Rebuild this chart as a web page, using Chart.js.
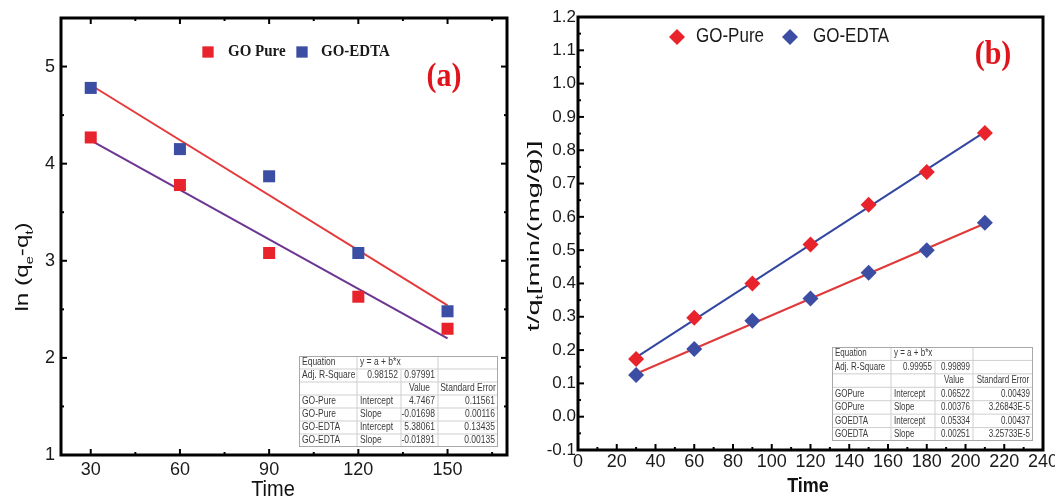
<!DOCTYPE html>
<html>
<head>
<meta charset="utf-8">
<script src="https://cdn.jsdelivr.net/npm/chart.js@4.4.1/dist/chart.umd.min.js"></script>
<style>
  html, body { margin: 0; padding: 0; background: #fff; overflow: hidden; }
  #wrapA { position: absolute; left: 0; top: 0; width: 530px; height: 498px; }
  #wrapB { position: absolute; left: 520px; top: 0; width: 535px; height: 498px; }
</style>
</head>
<body>
<div id="wrapA"><canvas id="chartA" width="530" height="498"></canvas></div>
<div id="wrapB"><canvas id="chartB" width="535" height="498"></canvas></div>
<script>
// ---- panel (a): pseudo-first-order ----
const timeA = [30, 60, 90, 120, 150];
const lnPure = [4.27, 3.78, 3.08, 2.63, 2.30];
const lnEdta = [4.78, 4.15, 3.87, 3.08, 2.48];
const fitTimeA = [30, 150];
const fitEdtaA = [4.81, 2.54];
const fitPureA = [4.24, 2.20];
const xTicksA = [30, 60, 90, 120, 150];
const yTicksA = [1, 2, 3, 4, 5];
const namesA = ['GO Pure', 'GO-EDTA'];
const tableA = [
  ['Equation', 'y = a + b*x', '', ''],
  ['Adj. R-Square', '0.98152', '0.97991', ''],
  ['', '', 'Value', 'Standard Error'],
  ['GO-Pure', 'Intercept', '4.7467', '0.11561'],
  ['GO-Pure', 'Slope', '-0.01698', '0.00116'],
  ['GO-EDTA', 'Intercept', '5.38061', '0.13435'],
  ['GO-EDTA', 'Slope', '-0.01891', '0.00135']
];

// ---- panel (b): pseudo-second-order ----
const timeB = [30, 60, 90, 120, 150, 180, 210];
const tqPure = [0.173, 0.297, 0.400, 0.517, 0.636, 0.735, 0.852];
const tqEdta = [0.125, 0.203, 0.288, 0.355, 0.432, 0.500, 0.582];
const fitTimeB = [30, 210];
const fitPureB = [0.178, 0.855];
const fitEdtaB = [0.129, 0.580];
const xTicksB = [0, 20, 40, 60, 80, 100, 120, 140, 160, 180, 200, 220, 240];
const yTicksB = [-0.1, 0.0, 0.1, 0.2, 0.3, 0.4, 0.5, 0.6, 0.7, 0.8, 0.9, 1.0, 1.1, 1.2];
const namesB = ['GO-Pure', 'GO-EDTA'];
const tableB = [
  ['Equation', 'y = a + b*x', '', ''],
  ['Adj. R-Square', '0.99955', '0.99899', ''],
  ['', '', 'Value', 'Standard Error'],
  ['GOPure', 'Intercept', '0.06522', '0.00439'],
  ['GOPure', 'Slope', '0.00376', '3.26843E-5'],
  ['GOEDTA', 'Intercept', '0.05334', '0.00437'],
  ['GOEDTA', 'Slope', '0.00251', '3.25733E-5']
];

const RED = '#e8232b';
const BLUE = '#3b4ea3';
const SANS = "Arial, 'Liberation Sans', sans-serif";
const SERIF = "'Times New Roman', 'Liberation Serif', serif";

function pts(xs, ys) {
  return xs.map((x, i) => ({ x: x, y: ys[i] }));
}

function line(ctx, x1, y1, x2, y2) {
  ctx.beginPath(); ctx.moveTo(x1, y1); ctx.lineTo(x2, y2); ctx.stroke();
}

// text squeezed/stretched vertically like the scanned figure
function sText(ctx, txt, x, y, font, align, sy, color) {
  ctx.save();
  ctx.translate(x, y);
  ctx.scale(1, sy);
  ctx.font = font;
  ctx.textAlign = align;
  ctx.textBaseline = 'middle';
  ctx.fillStyle = color;
  ctx.fillText(txt, 0, 0);
  ctx.restore();
}

// rotated axis title with subscripts, stretched along the text
function vTitle(ctx, parts, cx, cy, size, sx, weight) {
  ctx.save();
  ctx.translate(cx, cy);
  ctx.rotate(-Math.PI / 2);
  ctx.scale(sx, 1);
  ctx.fillStyle = '#111';
  ctx.textBaseline = 'alphabetic';
  ctx.textAlign = 'left';
  let total = 0;
  parts.forEach(p => {
    ctx.font = weight + ' ' + (p.sub ? size * 0.6 : size) + 'px ' + SANS;
    total += ctx.measureText(p.t).width;
  });
  let x = -total / 2;
  parts.forEach(p => {
    ctx.font = weight + ' ' + (p.sub ? size * 0.6 : size) + 'px ' + SANS;
    ctx.fillText(p.t, x, size * 0.35 + (p.sub ? size * 0.25 : 0));
    x += ctx.measureText(p.t).width;
  });
  ctx.restore();
}

function cellAlign(i, j) {
  if (j === 0 || i === 0) return 'left';
  if (i === 2) return 'center';
  if (j === 1 && i >= 3) return 'left';
  return 'right';
}

function drawTable(ctx, t, rows) {
  const rh = t.h / rows.length;
  const edges = [0].concat(t.cols, [t.w]);
  ctx.fillStyle = '#fff';
  ctx.fillRect(t.x, t.y, t.w, t.h);
  ctx.strokeStyle = '#cfcfcf';
  ctx.lineWidth = 1;
  for (let i = 1; i < rows.length; i++) {
    line(ctx, t.x, t.y + i * rh, t.x + t.w, t.y + i * rh);
  }
  for (let j = 1; j < edges.length - 1; j++) {
    for (let i = 0; i < rows.length; i++) {
      if (i === 0 && j === 2) continue;
      line(ctx, t.x + edges[j], t.y + i * rh, t.x + edges[j], t.y + (i + 1) * rh);
    }
  }
  ctx.strokeStyle = '#a8a8a8';
  ctx.strokeRect(t.x + 0.5, t.y + 0.5, t.w - 1, t.h - 1);
  rows.forEach((r, i) => {
    r.forEach((txt, j) => {
      if (!txt) return;
      const al = cellAlign(i, j);
      const l = t.x + edges[j], rgt = t.x + edges[j + 1];
      const x = al === 'left' ? l + 3 : al === 'right' ? rgt - 3 : (l + rgt) / 2;
      sText(ctx, txt, x, t.y + (i + 0.5) * rh, t.size + 'px ' + SANS, al, 1.25, '#3a3a3a');
    });
  });
}

function marker(ctx, style, x, y, r, color) {
  ctx.fillStyle = color;
  ctx.beginPath();
  if (style === 'rect') {
    const s = r * Math.SQRT1_2;
    ctx.rect(x - s, y - s, 2 * s, 2 * s);
  } else {
    ctx.moveTo(x, y - r); ctx.lineTo(x + r, y); ctx.lineTo(x, y + r); ctx.lineTo(x - r, y);
    ctx.closePath();
  }
  ctx.fill();
}

const deco = {
  id: 'deco',
  afterDraw(chart, args, o) {
    const ctx = chart.ctx, a = chart.chartArea;
    const xs = chart.scales.x, ys = chart.scales.y;
    ctx.save();
    ctx.strokeStyle = '#000';
    ctx.lineWidth = 2;
    const isMajor = (sc, v) => sc.ticks.some(t => Math.abs(t.value - v) < 1e-6);
    for (let v = o.xMinor[0]; v <= o.xMinor[1] + 1e-6; v += o.xMinor[2]) {
      const p = xs.getPixelForValue(v), L = isMajor(xs, v) ? 6 : 3;
      line(ctx, p, a.bottom, p, a.bottom - L);
      if (o.allSides) line(ctx, p, a.top, p, a.top + L);
    }
    for (let v = o.yMinor[0]; v <= o.yMinor[1] + 1e-6; v += o.yMinor[2]) {
      const p = ys.getPixelForValue(v), L = isMajor(ys, v) ? 6 : 3;
      line(ctx, a.left, p, a.left + L, p);
      if (o.allSides) line(ctx, a.right, p, a.right - L, p);
    }
    ctx.lineWidth = 3;
    ctx.strokeRect(a.left, a.top, a.right - a.left, a.bottom - a.top);

    // legend
    const ds = chart.data.datasets;
    o.legend.forEach((lg, i) => {
      marker(ctx, lg.style, lg.mx, lg.y, lg.r, ds[i].backgroundColor);
      sText(ctx, ds[i].label, lg.tx, lg.y, o.legendFont, 'left', 1.15, '#1a1a1a');
    });

    // panel letter
    sText(ctx, o.tag.text, o.tag.x, o.tag.y, 'bold 30px ' + SERIF, 'center', 1.1, '#e0141c');

    // axis titles
    ctx.font = o.xTitle.font;
    ctx.fillStyle = '#111';
    ctx.textAlign = 'center';
    ctx.textBaseline = 'alphabetic';
    ctx.save();
    ctx.translate(o.xTitle.x, o.xTitle.y);
    ctx.scale(1, 1.1);
    ctx.fillText(o.xTitle.text, 0, 0);
    ctx.restore();
    vTitle(ctx, o.yTitle.parts, o.yTitle.x, o.yTitle.y, o.yTitle.size, o.yTitle.sx, 'normal');

    drawTable(ctx, o.table, o.table.rows);
    ctx.restore();
  }
};

function fixAxis(w, h) {
  return s => {
    if (w !== undefined) { s.width = w; s.paddingTop = 0; s.paddingBottom = 0; }
    if (h !== undefined) { s.height = h; s.paddingLeft = 0; s.paddingRight = 0; }
  };
}

window.onload = () => {

/* ------------------------ panel (a) ------------------------ */
new Chart(document.getElementById('chartA'), {
  type: 'scatter',
  data: {
    datasets: [
      { label: namesA[0], data: pts(timeA, lnPure), backgroundColor: RED, borderColor: RED,
        pointStyle: 'rect', pointRadius: 8.5, borderWidth: 0, order: 1 },
      { label: namesA[1], data: pts(timeA, lnEdta), backgroundColor: BLUE, borderColor: BLUE,
        pointStyle: 'rect', pointRadius: 8.5, borderWidth: 0, order: 1 },
      { label: 'fit EDTA', data: pts(fitTimeA, fitEdtaA), showLine: true, pointRadius: 0,
        borderColor: '#e5393a', borderWidth: 2, order: 2 },
      { label: 'fit Pure', data: pts(fitTimeA, fitPureA), showLine: true, pointRadius: 0,
        borderColor: '#6c3592', borderWidth: 2, order: 2 }
    ]
  },
  options: {
    responsive: false,
    animation: false,
    events: [],
    layout: { padding: { top: 18, right: 23, left: 0, bottom: 0 } },
    scales: {
      x: {
        type: 'linear', min: 20, max: 170,
        afterBuildTicks: s => { s.ticks = xTicksA.map(v => ({ value: v })); },
        afterFit: fixAxis(undefined, 43),
        grid: { display: false, drawTicks: false },
        border: { display: false },
        ticks: { autoSkip: false, maxRotation: 0, padding: 4, color: '#1a1a1a',
          font: { family: SANS, size: 18 } }
      },
      y: {
        type: 'linear', min: 1, max: 5.5,
        afterBuildTicks: s => { s.ticks = yTicksA.map(v => ({ value: v })); },
        afterFit: fixAxis(61, undefined),
        grid: { display: false, drawTicks: false },
        border: { display: false },
        ticks: { autoSkip: false, padding: 6, color: '#1a1a1a',
          font: { family: SANS, size: 18 } }
      }
    },
    plugins: {
      legend: { display: false },
      tooltip: { enabled: false },
      deco: {
        allSides: true,
        xMinor: [30, 165, 15],
        yMinor: [1, 5.5, 0.5],
        legend: [
          { style: 'rect', mx: 208, tx: 228, y: 52, r: 8 },
          { style: 'rect', mx: 302, tx: 321, y: 52, r: 8 }
        ],
        legendFont: 'bold 15px ' + SERIF,
        tag: { text: '(a)', x: 444, y: 77 },
        xTitle: { text: 'Time', x: 273, y: 496, font: '20px ' + SANS },
        yTitle: { parts: [{ t: 'ln (q' }, { t: 'e', sub: true }, { t: '-q' }, { t: 't', sub: true }, { t: ')' }],
          x: 22, y: 267, size: 18, sx: 1.35 },
        table: { x: 299, y: 356, w: 199, h: 91, cols: [58, 102, 139], size: 8.5, rows: tableA }
      }
    }
  },
  plugins: [deco]
});

/* ------------------------ panel (b) ------------------------ */
new Chart(document.getElementById('chartB'), {
  type: 'scatter',
  data: {
    datasets: [
      { label: namesB[0], data: pts(timeB, tqPure), backgroundColor: RED, borderColor: RED,
        pointStyle: 'rectRot', pointRadius: 8, borderWidth: 0, order: 1 },
      { label: namesB[1], data: pts(timeB, tqEdta), backgroundColor: BLUE, borderColor: BLUE,
        pointStyle: 'rectRot', pointRadius: 8, borderWidth: 0, order: 1 },
      { label: 'fit Pure', data: pts(fitTimeB, fitPureB), showLine: true, pointRadius: 0,
        borderColor: '#3346a0', borderWidth: 2, order: 2 },
      { label: 'fit EDTA', data: pts(fitTimeB, fitEdtaB), showLine: true, pointRadius: 0,
        borderColor: '#e0393a', borderWidth: 2, order: 2 }
    ]
  },
  options: {
    responsive: false,
    animation: false,
    events: [],
    layout: { padding: { top: 17, right: 12, left: 0, bottom: 0 } },
    scales: {
      x: {
        type: 'linear', min: 0, max: 240,
        afterBuildTicks: s => { s.ticks = xTicksB.map(v => ({ value: v })); },
        afterFit: fixAxis(undefined, 48),
        grid: { display: false, drawTicks: false },
        border: { display: false },
        ticks: { autoSkip: false, maxRotation: 0, padding: 1, color: '#1a1a1a',
          font: { family: SANS, size: 18 } }
      },
      y: {
        type: 'linear', min: -0.1, max: 1.2,
        afterBuildTicks: s => { s.ticks = yTicksB.map(v => ({ value: v })); },
        afterFit: fixAxis(58, undefined),
        grid: { display: false, drawTicks: false },
        border: { display: false },
        ticks: { autoSkip: false, padding: 2, color: '#1a1a1a',
          font: { family: SANS, size: 17 },
          callback: v => v.toFixed(1) }
      }
    },
    plugins: {
      legend: { display: false },
      tooltip: { enabled: false },
      deco: {
        allSides: false,
        xMinor: [0, 240, 10],
        yMinor: [-0.1, 1.2, 0.05],
        legend: [
          { style: 'rectRot', mx: 157, tx: 176, y: 37, r: 8 },
          { style: 'rectRot', mx: 270, tx: 293, y: 37, r: 8 }
        ],
        legendFont: '17px ' + SANS,
        tag: { text: '(b)', x: 473, y: 55 },
        xTitle: { text: 'Time', x: 288, y: 492, font: 'bold 18px ' + SANS },
        yTitle: { parts: [{ t: 't/q' }, { t: 't', sub: true }, { t: '[min/(mg/g)]' }],
          x: 13, y: 236, size: 17, sx: 1.7 },
        table: { x: 312, y: 347, w: 201, h: 94, cols: [59, 103, 141], size: 8, rows: tableB }
      }
    }
  },
  plugins: [deco]
});

};
</script>
</body>
</html>
